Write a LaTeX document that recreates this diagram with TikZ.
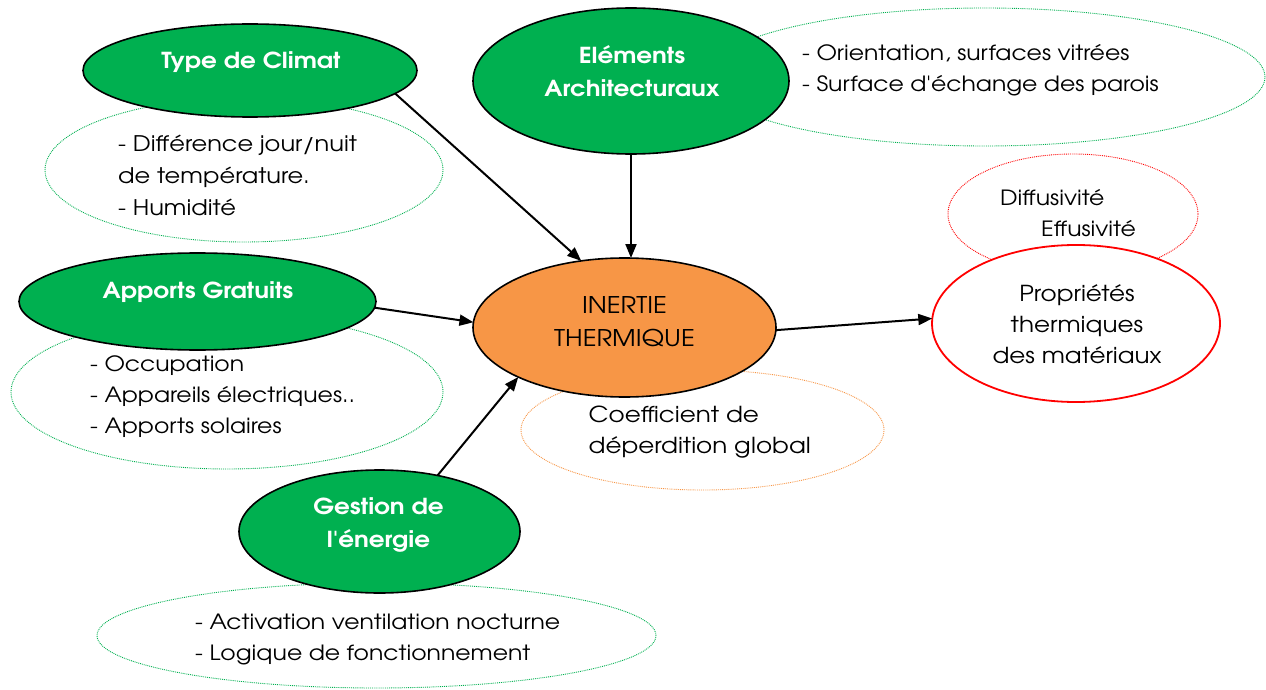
\documentclass[tikz,border=0pt]{standalone}
\usepackage{fontspec}
\setmainfont{TeX Gyre Adventor}[Ligatures=TeXOff, FakeStretch=1.12]
\usetikzlibrary{shapes.geometric,arrows.meta}

\definecolor{ogreen}{HTML}{00B050}
\definecolor{oorange}{HTML}{F79646}
\definecolor{ored}{HTML}{FF0000}

\tikzset{
  oval/.style={ellipse, inner sep=0pt, outer sep=0pt},
  mainoval/.style={oval, draw=black, line width=1.6pt, fill=ogreen},
  detailoval/.style={oval, draw=#1, line width=0.9pt, densely dotted},
  title/.style={text=white, font=\fontsize{22}{33}\selectfont\bfseries, align=center, inner sep=0pt},
  body/.style={text=black, font=\fontsize{21}{31}\selectfont, align=left, inner sep=0pt},
  bodylarge/.style={body, font=\fontsize{22}{31}\selectfont},
  arr/.style={line width=2pt, -{Triangle[length=14pt,width=11pt]}},
}

\begin{document}
\begin{tikzpicture}[x=1pt,y=-1pt]
\useasboundingbox (0,0) rectangle (1266,690);

% secondary ovals with the influencing factors
\node[detailoval=ogreen, minimum width=398pt, minimum height=144pt] (climatd) at (244,170) {};
\node[detailoval=ogreen, minimum width=560pt, minimum height=138pt] (elemd) at (985,77) {};
\node[detailoval=ored, minimum width=250pt, minimum height=120pt] (diffd) at (1073,214) {};
\node[detailoval=oorange, minimum width=363pt, minimum height=120pt] (coefd) at (702.5,430) {};
\node[detailoval=ogreen, minimum width=432pt, minimum height=154pt] (apportsd) at (227,392) {};
\node[detailoval=ogreen, minimum width=559pt, minimum height=105pt] (gestiond) at (376.5,635.5) {};

% main factor ovals
\node[mainoval, minimum width=334pt, minimum height=93pt] (climat) at (250,70.5) {};
\node[mainoval, minimum width=316pt, minimum height=146pt] (elem) at (631,81) {};
\node[mainoval, minimum width=357pt, minimum height=97pt] (apports) at (197.5,301.5) {};
\node[mainoval, minimum width=281pt, minimum height=123pt] (gestion) at (379.5,531.5) {};
\node[oval, draw=black, line width=1.6pt, fill=oorange, minimum width=303pt, minimum height=139pt] (inertie) at (624.5,327.5) {};
\node[oval, draw=ored, line width=1.8pt, fill=white, minimum width=288pt, minimum height=157pt] (prop) at (1076,323.5) {};

% oval titles
\node[title] (climatt) at (251,62) {Type de Climat};
\node[title] (elemt) at (632,71.5) {Eléments\\Architecturaux};
\node[title] (apportst) at (198,292) {Apports Gratuits};
\node[title] (gestiont) at (378.5,525) {Gestion de\\l'énergie};
\node[bodylarge, font=\fontsize{23}{33}\selectfont, align=center] (inertiet) at (624.5,321.5) {INERTIE\\THERMIQUE};
\node[bodylarge, align=center] (propt) at (1077,324) {Propriétés\\thermiques\\des matériaux};

% factor details
\node[body, font=\fontsize{21.5}{32}\selectfont, anchor=west] (climatdt) at (118,175) {- Différence jour/nuit\\de température.\\- Humidité};
\node[body, anchor=west] (elemdt) at (802,70) {- Orientation, surfaces vitrées\\- Surface d'échange des parois};
\node[body, anchor=west] (diffdt) at (1000,213.5) {Diffusivité\\\hspace*{41pt}Effusivité};
\node[bodylarge, anchor=west] (coefdt) at (588.5,432.5) {Coefficient de\\déperdition global};
\node[body, anchor=west] (apportsdt) at (90,396.5) {- Occupation\\- Appareils électriques..\\- Apports solaires};
\node[body, anchor=west] (gestiondt) at (195,639) {- Activation ventilation nocturne\\- Logique de fonctionnement};

% influences
\draw[arr] (climat.-9.4) -- (inertie.123.6);
\draw[arr] (elem.south) -- (elem.south |- inertie.north);
\draw[arr] (apports.-2) -- (inertie.178);
\draw[arr] (gestion.44.5) -- (inertie.205);
\draw[arr] (inertie.-1) -- (prop.178);
\end{tikzpicture}
\end{document}
